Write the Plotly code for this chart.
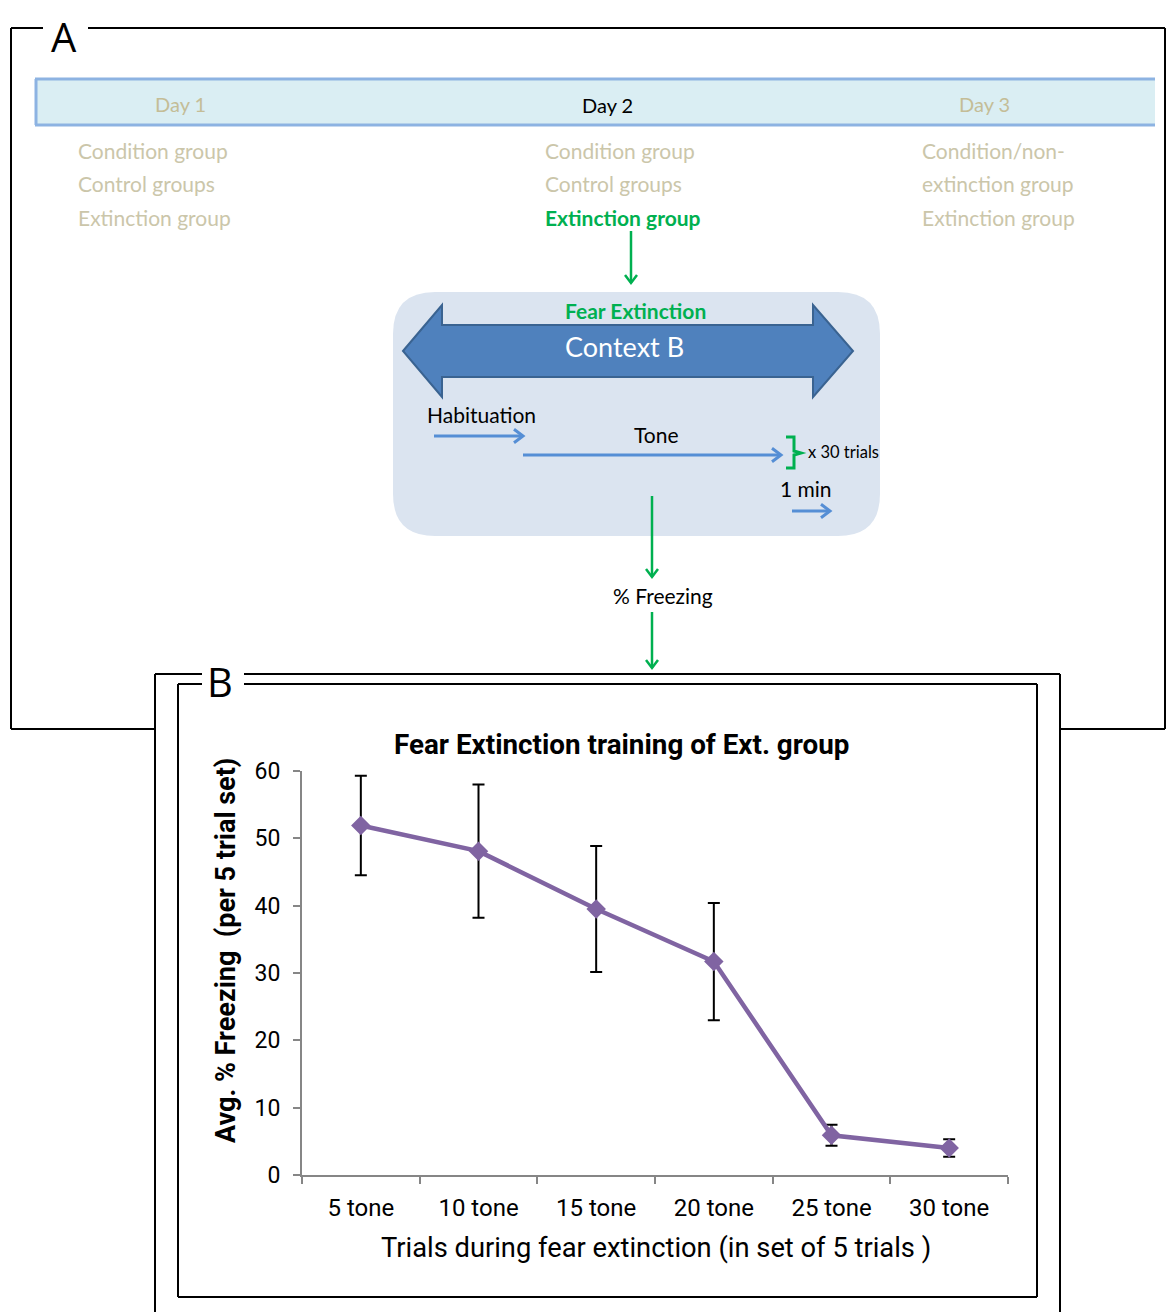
import plotly.graph_objects as go

W, H = 1175, 1312
OFF = 8  # compensate for the default page margin around the plot

# ---- data ----
categories = ["5 tone", "10 tone", "15 tone", "20 tone", "25 tone", "30 tone"]
freezing = [51.9, 48.1, 39.5, 31.7, 5.9, 4.0]
sem = [7.4, 9.9, 9.35, 8.7, 1.55, 1.3]
y_ticks = [0, 10, 20, 30, 40, 50, 60]

chart_title = "Fear Extinction training of Ext. group"
x_title = "Trials during fear extinction (in set of 5 trials )"
y_title = "Avg. % Freezing  (per 5 trial set)"

def px(x):
    return (x - OFF) / W

def py(y):
    return 1 - (y - OFF) / H

COND = "Roboto, Liberation Sans Narrow, sans-serif"
CAL = "Lato, Carlito, Calibri, Open Sans, sans-serif"
TAN = "#cbc6aa"
GREEN = "#00b050"
ARROWBLUE = "#558ed5"

fig = go.Figure()

fig.add_trace(go.Scatter(
    x=categories, y=freezing,
    mode="lines+markers",
    line=dict(color="#8064a2", width=4.5),
    marker=dict(symbol="diamond", size=15, color="#8064a2"),
    error_y=dict(type="data", array=sem, visible=True, color="black", thickness=2, width=6),
    showlegend=False,
    hoverinfo="x+y",
))

shapes = []
annotations = []

def line(x0, y0, x1, y1, color="black", width=2):
    shapes.append(dict(type="line", xref="paper", yref="paper",
                       x0=px(x0), y0=py(y0), x1=px(x1), y1=py(y1),
                       line=dict(color=color, width=width)))

def path(points, color, width, fill=None, close=False):
    d = "M " + " L ".join(f"{px(a):.5f},{py(b):.5f}" for a, b in points)
    if close:
        d += " Z"
    s = dict(type="path", xref="paper", yref="paper", path=d,
             line=dict(color=color, width=width))
    if fill:
        s["fillcolor"] = fill
    shapes.append(s)

def text(x, y, t, size, color="black", font=CAL, xanchor="center", bold=False, angle=0,
         yanchor="middle"):
    if bold:
        t = f"<b>{t}</b>"
    annotations.append(dict(xref="paper", yref="paper", x=px(x), y=py(y), text=t,
                            showarrow=False, xanchor=xanchor, yanchor=yanchor,
                            textangle=angle, borderpad=0,
                            font=dict(family=font, size=size, color=color)))

def harrow(x0, x1, y, color, width=3, head=9):
    line(x0, y, x1, y, color, width)
    path([(x1 - head, y - head * 0.75), (x1, y), (x1 - head, y + head * 0.75)], color, width)

def varrow(x, y0, y1, color, width=2.5, head=8):
    line(x, y0, x, y1, color, width)
    path([(x - head * 0.75, y1 - head), (x, y1), (x + head * 0.75, y1 - head)], color, width)

# ---- Box A ----
RIGHT_A = 1165
line(11, 28, 43, 28)
line(88, 28, RIGHT_A, 28)
line(11, 28, 11, 729)
line(RIGHT_A, 28, RIGHT_A, 729)
line(11, 729, 155, 729)
line(1060, 729, RIGHT_A, 729)
text(64, 8, "A", 40, font="Open Sans, sans-serif", yanchor="top")

# ---- Box B (double frame) ----
line(155, 674, 202, 674)
line(244, 674, 1060, 674)
line(155, 674, 155, 1320)
line(1060, 674, 1060, 1320)
line(178, 684, 202, 684)
line(244, 684, 1037, 684)
line(178, 684, 178, 1297)
line(1037, 684, 1037, 1297)
line(178, 1297, 1037, 1297)
text(220, 681, "B", 40, font="Open Sans, sans-serif")

# ---- Day bar ----
shapes.append(dict(type="rect", xref="paper", yref="paper",
                   x0=px(35), y0=py(126), x1=px(1155), y1=py(78),
                   fillcolor="#daeef3", line=dict(width=0)))
line(35, 79, 1155, 79, "#8db3e2", 3)
line(35, 125, 1155, 125, "#8db3e2", 3)
line(36, 79, 36, 125, "#8db3e2", 3)
text(180, 104, "Day 1", 20, "#c4bd97")
text(607, 105, "Day 2", 20, "black")
text(984, 104, "Day 3", 20, "#c4bd97")

text(77, 150, "Condition group", 21, TAN, xanchor="left")
text(77, 183, "Control groups", 21, TAN, xanchor="left")
text(77, 217, "Extinction group", 21, TAN, xanchor="left")
text(544, 150, "Condition group", 21, TAN, xanchor="left")
text(544, 183, "Control groups", 21, TAN, xanchor="left")
text(544, 217, "Extinction group", 21, GREEN, xanchor="left", bold=True)
text(921, 150, "Condition/non-", 21, TAN, xanchor="left")
text(921, 183, "extinction group", 21, TAN, xanchor="left")
text(921, 217, "Extinction group", 21, TAN, xanchor="left")

varrow(631, 231, 283, GREEN)

# ---- Rounded context box ----
x0, x1, y0, y1, r = 393, 880, 292, 536, 42
rb = (f"M {px(x0 + r):.5f},{py(y0):.5f} L {px(x1 - r):.5f},{py(y0):.5f} "
      f"Q {px(x1):.5f},{py(y0):.5f} {px(x1):.5f},{py(y0 + r):.5f} "
      f"L {px(x1):.5f},{py(y1 - r):.5f} "
      f"Q {px(x1):.5f},{py(y1):.5f} {px(x1 - r):.5f},{py(y1):.5f} "
      f"L {px(x0 + r):.5f},{py(y1):.5f} "
      f"Q {px(x0):.5f},{py(y1):.5f} {px(x0):.5f},{py(y1 - r):.5f} "
      f"L {px(x0):.5f},{py(y0 + r):.5f} "
      f"Q {px(x0):.5f},{py(y0):.5f} {px(x0 + r):.5f},{py(y0):.5f} Z")
shapes.append(dict(type="path", xref="paper", yref="paper", path=rb,
                   fillcolor="#dbe4f0", line=dict(width=0), layer="below"))

# double-headed arrow
path([(403, 351), (442, 305), (442, 325), (813, 325), (813, 305), (853, 351),
      (813, 397), (813, 377), (442, 377), (442, 397)],
     "#3a6391", 2, fill="#4f81bd", close=True)
text(635, 310, "Fear Extinction", 21, GREEN, bold=True)
text(624, 347, "Context B", 27, "white")

text(481, 414, "Habituation", 21)
harrow(434, 523, 436, ARROWBLUE)
text(656, 434, "Tone", 21)
harrow(523, 781, 455, ARROWBLUE)
path([(786, 437), (794, 437), (794, 451), (801, 453), (794, 455), (794, 468), (786, 468)],
     GREEN, 3)
text(807, 452, "x 30 trials", 16.5, xanchor="left")
text(806, 488, "1 min", 21)
harrow(792, 830, 511, ARROWBLUE)

line(652, 496, 652, 550, GREEN, 2.5)
varrow(652, 550, 577, GREEN)
text(663, 595, "% Freezing", 21)
varrow(652, 612, 668, GREEN)

# ---- chart texts ----
text(621, 744, chart_title, 27.8, font=COND, bold=True)
text(226, 951, y_title, 27, font=COND, bold=True, angle=-90)
text(656, 1248, x_title, 27.3, font=COND)

fig.update_layout(
    width=W, height=H,
    margin=dict(l=0, r=0, t=0, b=0),
    paper_bgcolor="white",
    plot_bgcolor="rgba(0,0,0,0)",
    shapes=shapes,
    annotations=annotations,
    xaxis=dict(
        domain=[px(302), px(1008)],
        type="category",
        categoryorder="array", categoryarray=categories,
        range=[-0.5, 5.5],
        automargin=False,
        showline=True, linecolor="#868686", linewidth=2,
        ticks="outside", tickson="boundaries", ticklen=7, tickcolor="#868686", tickwidth=2,
        showgrid=False, zeroline=False,
        tickfont=dict(family=COND, size=24, color="black"),
        ticklabelstandoff=10,
    ),
    yaxis=dict(
        domain=[py(1175), py(771)],
        range=[0, 60],
        tickvals=y_ticks,
        automargin=False,
        showline=True, linecolor="#868686", linewidth=2,
        ticks="outside", ticklen=7, tickcolor="#868686", tickwidth=2,
        showgrid=False, zeroline=False,
        tickfont=dict(family=COND, size=23, color="black"),
        ticklabelstandoff=8,
    ),
)

fig.write_html("out.html")
